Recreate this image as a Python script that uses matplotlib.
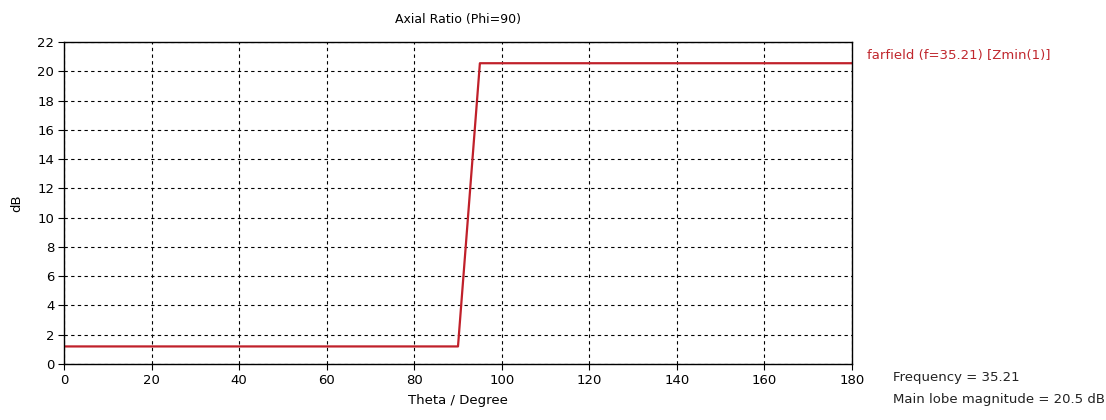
import matplotlib
matplotlib.use("Agg")
import matplotlib.pyplot as plt

theta = [0, 90, 95, 180]
axial_ratio = [1.2, 1.2, 20.55, 20.55]
xticks = list(range(0, 181, 20))
yticks = list(range(0, 23, 2))
title = "Axial Ratio (Phi=90)"
legend_label = "farfield (f=35.21) [Zmin(1)]"
notes = ["Frequency = 35.21", "Main lobe magnitude = 20.5 dB"]

plt.rcParams['font.family'] = ['DejaVu Sans']
fig = plt.figure(figsize=(11.06, 4.2), dpi=100)
ax = fig.add_axes([64/1106, 56/420, (852-64)/1106, (364-42)/420])
ax.plot(theta, axial_ratio, color='#c0202a', lw=1.6)
ax.set_xlim(0, 180)
ax.set_ylim(0, 22)
ax.set_xticks(xticks)
ax.set_yticks(yticks)
ax.grid(True, color='black', linestyle=(0, (3, 3)), lw=0.8)
ax.tick_params(direction='out', length=4, width=0.8, labelsize=9.5, pad=3)
for s in ax.spines.values():
    s.set_linewidth(1.0)
ax.set_xlabel("Theta / Degree", fontsize=9.5, labelpad=5)
ax.set_ylabel("dB", fontsize=9.5, labelpad=10)
fig.text(458/1106, 1-19/420, title, ha='center', va='center', fontsize=9)
fig.text(867/1106, 1-56/420, legend_label, ha='left', va='center', fontsize=9.5, color='#c0272d')
fig.text(893/1106, 1-378/420, notes[0], ha='left', va='center', fontsize=9.5, color='#222222')
fig.text(893/1106, 1-399/420, notes[1], ha='left', va='center', fontsize=9.5, color='#222222')
fig.savefig("out.png", dpi=100)
